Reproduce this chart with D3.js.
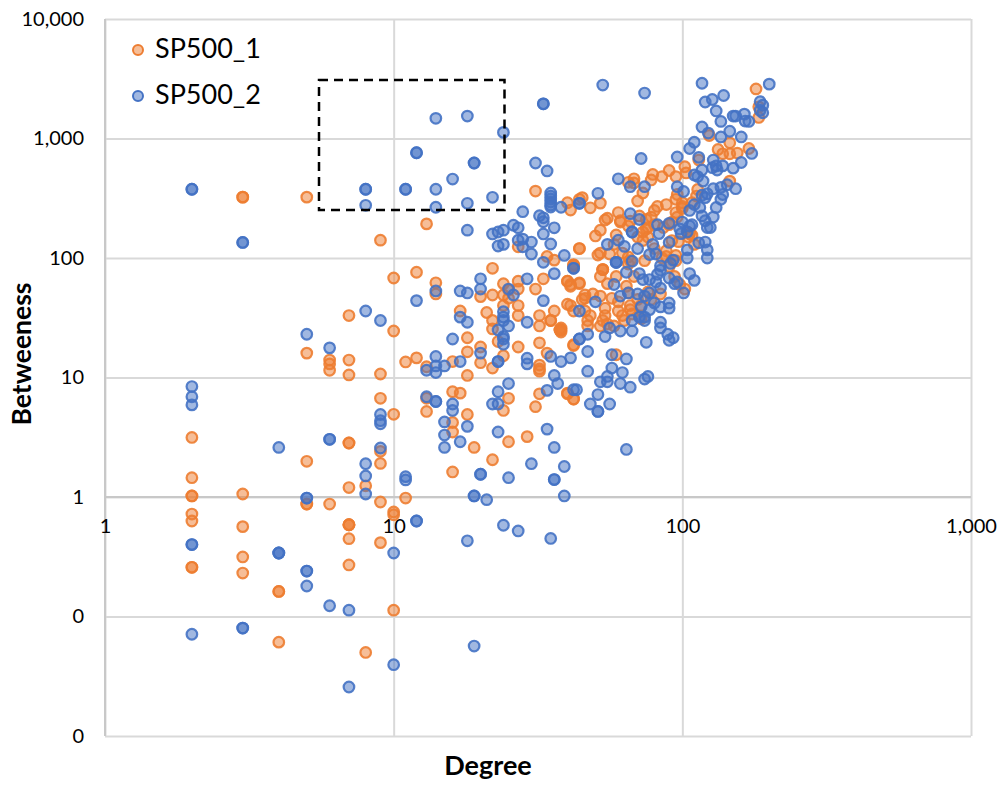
<!DOCTYPE html>
<html>
<head>
<meta charset="utf-8">
<script src="https://cdnjs.cloudflare.com/ajax/libs/d3/7.8.5/d3.min.js"></script>
<style>
  html, body { margin: 0; padding: 0; background: #fff; }
  text { font-family: Lato, "Open Sans", sans-serif; fill: #000; }
  .grid line { stroke: #d9d9d9; stroke-width: 2; }
  .grid path { display: none; }
  .tick-labels path, .tick-labels line { display: none; }
  .tick-labels text { font-size: 20px; }
</style>
</head>
<body>
<div id="chart"></div>
<script>
// values
const xTicks = [1, 10, 100, 1000];
const xTickLabels = ['1', '10', '100', '1,000'];
const yTicks = [0.01, 0.1, 1, 10, 100, 1000, 10000];
const yTickLabels = ['0', '0', '1', '10', '100', '1,000', '10,000'];
const seriesNames = ['SP500_1', 'SP500_2'];
const seriesColors = ['#ed7d31', '#4472c4'];

const sp1Degree = [
  2,2,2,2,2,2,2,2, 3,3,3,3,3,3, 4,4,4, 5,5,5,5,5, 6,6,6,6, 7,7,7,7,7,7,7,7,7,7,7,
  8,8, 9,9,9,9,9,9,9, 10,10,10,10,10,10, 11,11, 12,12, 13,13,13,13, 14,14,
  22,24,27,33,31,27,25,20,22,24,25,17,21,24,27,27,32,36,32,35,35,22,22,18,23,27,32,34,42,20,18,20,24,
  16,22,18,32,32,32,16,17,25,24,32,31,40,42,18,16,16,19,25,29,22,16,
  38,38,38,34,36,44,42,40,41,44,41,46,46,27,45,42,
  44,50,52,52,56,59,61,66,65,73,76,73,80,54,
  53,53,53,52,59,55,42,40,41,44,65,65,74,88,95,64,65,60,49,46,52,40,42,47,48,54,54,55,52,47,53,66,
  37.7,37.7,37.7,42,59,40,42,
  180,184,184,124,146,133,138,146,155,170,114,102,103,146,79,78,85,90,95,68,65,68,73,96,95,100,113,112,108,
  82,88,78,60,61,55,71,76,92,104,108,97,95,88,
  31,40,41,45,44,48,52,51,
  58,62,66,70,75,80,85,90,94,98,102,106,110,70,75,80,86,92,68,72,78,84,90,96,100,105,95,100,
  57,60,63,67,70,58,62,66,72,76
];
const sp1Between = [
  3.15,1.45,1.02,1.02,0.72,0.63,0.258,0.258, 323,323,1.06,0.565,0.315,0.231, 0.162,0.162,0.061, 1.99,0.873,0.873,323,16, 0.873,14,13,11.5, 2.83,2.83,1.2,0.586,0.586,0.586,0.448,0.27,33,14,10.5,
  1.24,0.05, 6.7,2.41,1.91,0.908,0.415,141,10.7, 4.92,0.75,0.71,0.113,68,24.5, 0.98,13.5, 76,14.6, 193,6.7,5.2,12.3, 62,50,
  82,61,64,67,55,55,54,47.5,49,49,46,36,35,40,40,33,33,36,27,30,30,30,25.5,21.5,20,18,19.5,16,18.5,18,16.4,13.3,15.2,
  13.6,12,10.4,12.7,11.8,11.3,7.6,7.4,6.7,5.3,7.3,5.7,7.4,6.6,4.9,4.2,3.5,2.6,2.9,3.2,2.05,1.62,
  26,25,24,103,96,120,87,64,60,61,40,36,49,124,45,85,
  120,153,171,110,108,156,200,203,185,165,150,140,190,208,
  80,80,80,70,70,61,88,64,58,62,102,89,95,103,95,58,51,43,50,46,48,41,36,30,33,38,33,28,27,27,30,37,
  25,25,25,18.8,15.5,7.3,6.6,
  2600,1840,1500,1060,920,810,745,745,755,825,660,580,515,440,500,450,480,540,480,460,430,425,350,340,310,290,375,330,290,
  270,280,220,240,205,215,225,180,200,165,155,137,105,115,
  363,290,252,320,310,263,288,106,
  130,110,95,150,175,120,100,85,70,60,55,160,130,300,210,250,180,140,70,40,45,50,190,220,260,150,240,270,
  46,36,30,34,45,27,33,40,31,52
];

const sp2Degree = [
  2,2,2, 4, 6,6, 5,5, 9,9,9,9, 8,8,8, 2,2, 4,4,4, 5,5, 5, 6, 7, 2, 3,3, 10, 10, 7, 11,11,
  2,2, 3,3, 8,8,8, 11,11, 12,12, 14,18,24, 19,19, 16,14,14,18,22,28,31,18,
  33,33, 34, 8,9,5,6,12,
  35,35,35,35,35,35,38,44,44,51,32,33,33,36,33,22,23,24,26,27,23,27,28,30,28,30,35,
  24,39,33,36,42,
  20,20,14,17,18,29,25,26,33,24,24,24,25,17,18,29,44,23,24,24,24,16,44,44,47,35,29,29,20,23,23,38,41,47,
  17,15,14,14,14,13,36,47,25,37,23,34,42,13,14,14,22,23,48,16,16,15,18,15,17,15,23,34,36,30,39,20,20,25,36,36,19,19,21,39,12,12,24,27,18,35,19,
  55,60,63,67,70,79,82,83,90,90,99,104,104,114,120,122,122,122,106,
  59,59,59,67,42,64,71,77,81,93,91,84,84,82,
  58,73,77,81,84,90,96,94,106,110,101,61,65,70,74,77,50,90,90,84,80,77,72,71,74,74,67,56,61,67,84,84,89,90,93,
  54,75,57,64,57,62,55,52,55,61,66,74,76,43,51,56,51,51,64,
  53,74,117,200,139,127,120,131,136,150,153,164,165,170,186,190,186,190,117,123,136,146,160,110,106,174,
  72,96,114,60,66,74,96,101,128,131,138,127,132,150,160,117,110,113,118,153,143,136,128,138,136,122,117,120,
  110,115,106,131,128,117,120,125,108,100,98,104,66,71,67
];
const sp2Between = [
  8.4,6.9,5.9, 2.6, 3.04,3.04, 0.98,0.98, 4.9,4.35,4.1,2.57, 1.9,1.5,1.06, 0.4,0.4, 0.34,0.34,0.34, 0.24,0.24, 0.18, 0.123, 0.113, 0.071, 0.08,0.08, 0.34, 0.0395, 0.0257, 1.48,1.39,
  376,376, 135,135, 376,376,276, 376,376, 760,760, 1475,1540,1125, 624,624, 458,376,266,287,322,244,624,171,
  1950,1950, 535, 36,30,23,17.7,44,
  350,330,312,294,278,267,266,287,287,348,226,217,201,179,159,159,165,171,188,179,126,141,144,136,124,108,131,
  130,105,92,74,82,
  67,55,53,53,51,67,55,49,44,35.5,32,30,27,32,29,29,36,25,22,21,19,21,21,21,23,15,14.5,13,16,13.6,13.6,13.6,14.6,16.5,
  13.6,12.5,15,12.5,11,11.5,10.4,11.3,8.9,8.9,7.6,7.8,7.9,6.9,6.3,6.3,6,6,6,6,5.3,4.25,3.9,3.3,2.9,2.6,3.5,3.7,2.6,1.9,1.8,1.55,1.55,1.45,1.4,1.4,1.02,1.02,0.95,1.02,0.63,0.63,0.58,0.52,0.43,0.45,0.0566,
  130,141,125,165,120,130,190,160,195,135,160,117,100,134,136,117,100,180,185,
  92,92,92,94,82,76,74,107,108,96,90,86,79,73,
  60,66,66,63,56,68,63,61,74,65,51,48,51,50,48,51,43,42,38,39,42,37,39,32,32,30,30,26,24.5,24.5,29,26,23,20.5,21.5,
  22,19.7,15.5,14.3,12,11,10.2,9.2,9.2,8.9,8.3,9.7,10.2,7.9,7.2,6,5.2,5.2,2.5,
  2800,2400,2900,2850,2290,2120,2020,1700,1390,1540,1540,1600,1400,1390,2030,1900,1720,1640,1250,1110,1030,1150,1030,930,825,750,
  680,700,695,460,395,395,395,360,660,590,590,570,545,565,630,545,495,480,440,380,410,390,380,340,310,345,335,320,
  280,265,250,265,220,225,205,180,190,200,175,165,235,210,165
];

const width = 1002, height = 785;
const plot = { left: 105, right: 971, top: 19, bottom: 736 };

const x = d3.scaleLog().domain([1, 1000]).range([plot.left, plot.right]);
const y = d3.scaleLog().domain([0.01, 10000]).range([plot.bottom, plot.top]);

const svg = d3.select('#chart').append('svg')
  .attr('width', width)
  .attr('height', height)
  .style('display', 'block');

// grid
svg.append('g')
  .attr('class', 'grid')
  .attr('transform', 'translate(0,' + plot.bottom + ')')
  .call(d3.axisBottom(x).tickValues(xTicks).tickSize(plot.top - plot.bottom).tickFormat(''));

svg.append('g')
  .attr('class', 'grid')
  .attr('transform', 'translate(' + plot.left + ',0)')
  .call(d3.axisLeft(y).tickValues(yTicks).tickSize(plot.left - plot.right).tickFormat(''));

// axis at degree 1 / betweenness 1 is a bit darker
svg.append('line')
  .attr('x1', plot.left).attr('x2', plot.right)
  .attr('y1', y(1)).attr('y2', y(1))
  .attr('stroke', '#c8c8c8').attr('stroke-width', 2);
svg.append('line')
  .attr('x1', plot.left).attr('x2', plot.left)
  .attr('y1', plot.top).attr('y2', plot.bottom)
  .attr('stroke', '#c8c8c8').attr('stroke-width', 2);

// tick labels, the x ones sit under the y=1 line
svg.append('g')
  .attr('class', 'tick-labels')
  .attr('transform', 'translate(0,' + y(1) + ')')
  .call(d3.axisBottom(x).tickValues(xTicks).tickSize(0).tickPadding(22)
    .tickFormat((d, i) => xTickLabels[i]));

svg.append('g')
  .attr('class', 'tick-labels')
  .attr('transform', 'translate(' + plot.left + ',0)')
  .call(d3.axisLeft(y).tickValues(yTicks).tickSize(0).tickPadding(21)
    .tickFormat((d, i) => yTickLabels[i]));

// points, orange first and blue on top
function drawSeries(degree, between, color) {
  svg.append('g').selectAll('circle')
    .data(degree.map((d, i) => [d, between[i]]))
    .join('circle')
    .attr('cx', d => x(d[0]))
    .attr('cy', d => y(d[1]))
    .attr('r', 5.3)
    .attr('fill', color)
    .attr('fill-opacity', 0.5)
    .attr('stroke', color)
    .attr('stroke-opacity', 0.9)
    .attr('stroke-width', 2.2);
}
drawSeries(sp1Degree, sp1Between, seriesColors[0]);
drawSeries(sp2Degree, sp2Between, seriesColors[1]);

// dashed box
svg.append('rect')
  .attr('x', 319).attr('y', 80)
  .attr('width', 185.5).attr('height', 130)
  .attr('fill', 'none')
  .attr('stroke', '#000')
  .attr('stroke-width', 2.5)
  .attr('stroke-dasharray', '9,6');

// legend
seriesNames.forEach((name, i) => {
  const ly = 50 + i * 46;
  svg.append('circle')
    .attr('cx', 138).attr('cy', ly).attr('r', 5)
    .attr('fill', seriesColors[i]).attr('fill-opacity', 0.5)
    .attr('stroke', seriesColors[i]).attr('stroke-width', 2);
  svg.append('text')
    .attr('x', 155).attr('y', ly - 1)
    .attr('dy', '.35em')
    .style('font-size', '27px')
    .text(name);
});

// axis titles
svg.append('text')
  .attr('x', 488).attr('y', 775)
  .attr('text-anchor', 'middle')
  .style('font-size', '27px').style('font-weight', 'bold')
  .text('Degree');

svg.append('text')
  .attr('transform', 'translate(31,354) rotate(-90)')
  .attr('text-anchor', 'middle')
  .style('font-size', '26.5px').style('font-weight', 'bold')
  .text('Betweeness');
</script>
</body>
</html>
